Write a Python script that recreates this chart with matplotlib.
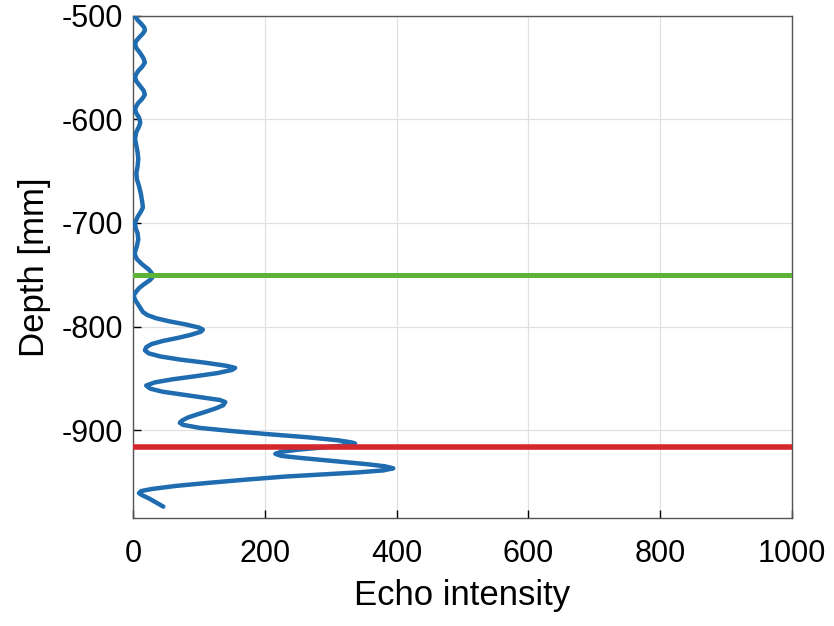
import numpy as np
import matplotlib
matplotlib.use("Agg")
import matplotlib.pyplot as plt

# echo profile (depth in mm, intensity)
depth = [-500, -504, -508, -511, -514, -517, -521, -524, -527, -531, -536, -541,
         -545, -549, -553, -556, -559, -563, -568, -572, -576, -580, -584, -587,
         -590, -594, -598, -603, -607, -612, -619, -625, -632, -638, -645, -652,
         -658, -664, -672, -680, -685, -689, -694, -700, -705, -710, -716, -722,
         -728, -731, -735, -740, -745, -749, -752, -755, -759, -763, -767, -770,
         -774, -779, -783, -786, -789, -792, -795, -798, -801, -803, -805, -808,
         -811, -814, -817, -820, -823, -826, -829, -832, -835, -838, -840, -842,
         -845, -848, -851, -854, -857, -860, -863, -866, -869, -871, -873, -876,
         -879, -882, -885, -888, -891, -893, -895, -898, -901, -904, -907, -910,
         -912, -913, -915, -917, -919, -921, -923, -925, -927, -930, -933, -935,
         -937, -939, -941, -943, -945, -948, -951, -954, -957, -959, -961, -963,
         -966, -970, -974]
intensity = [3, 7, 13, 17, 18, 15, 9, 5, 3, 5, 11, 16,
             18, 14, 8, 5, 3, 5, 11, 16, 18, 14, 8, 5,
             3, 5, 9, 11, 9, 5, 3, 5, 7, 8, 7, 5,
             6, 9, 12, 14, 15, 12, 7, 3, 4, 7, 8, 6,
             3, 3, 6, 14, 24, 29, 30, 26, 17, 9, 4, 1,
             3, 8, 12, 15, 22, 35, 55, 80, 100, 106, 103, 88,
             68, 45, 28, 20, 18, 24, 42, 72, 110, 142, 155, 150,
             128, 95, 60, 33, 20, 26, 45, 78, 112, 132, 140, 137,
             126, 112, 97, 83, 74, 71, 76, 102, 150, 205, 265, 312,
             332, 337, 320, 285, 250, 225, 216, 225, 255, 305, 355, 382,
             395, 380, 340, 285, 230, 170, 115, 65, 28, 12, 9, 14,
             24, 35, 46]

surface_depth = -750
bottom_depth = -916

x_ticks = [0, 200, 400, 600, 800, 1000]
y_ticks = [-900, -800, -700, -600, -500]

plt.rcParams['font.family'] = ['Liberation Sans', 'DejaVu Sans']
plt.rcParams['axes.unicode_minus'] = False

fig = plt.figure(figsize=(8.34, 6.26), dpi=100)
ax = fig.add_axes([0.1595, 0.1725, 0.79, 0.802])

ax.plot(intensity, depth, color='#1f6cb0', lw=3.2, zorder=3,
        solid_joinstyle='round', solid_capstyle='round')
ax.axhline(surface_depth, color='#5cb338', lw=3.6, zorder=4)
ax.axhline(bottom_depth, color='#d2282e', lw=4.0, zorder=4)

ax.set_xlim(0, 1000)
ax.set_ylim(-985, -500)
ax.set_xticks(x_ticks)
ax.set_yticks(y_ticks)
ax.grid(True, color='#e0e0e0', lw=0.9)
ax.set_axisbelow(True)
ax.tick_params(direction='in', length=6, width=1, labelsize=22,
               top=False, right=False)
ax.tick_params(axis='x', pad=15)
ax.tick_params(axis='y', pad=7)
for s in ax.spines.values():
    s.set_color('#555555')
    s.set_linewidth(1.0)

ax.set_xlabel('Echo intensity', fontsize=25, labelpad=7)
ax.set_ylabel('Depth [mm]', fontsize=25, labelpad=8)

fig.savefig('out.png', dpi=100)
